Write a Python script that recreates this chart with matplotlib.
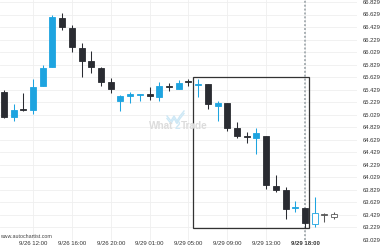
import matplotlib
matplotlib.use('Agg')
import matplotlib.pyplot as plt
from matplotlib.patches import Rectangle
from matplotlib.lines import Line2D

# hourly candles
opens = [65.389, 64.989, 65.117, 65.101, 65.485, 65.789, 66.573, 66.413, 66.093, 65.885,
         65.773, 65.549, 65.245, 65.325, 65.341, 65.357, 65.309, 65.485, 65.437, 65.565,
         65.509, 65.517, 65.165, 65.213, 64.813, 64.685, 64.653, 64.685, 63.885, 63.821,
         63.533, 63.533, 63.277, 63.437, 63.437]
highs = [65.421, 65.197, 65.373, 65.597, 65.821, 66.621, 66.653, 66.461, 66.173, 66.045,
         65.789, 65.613, 65.341, 65.389, 65.365, 65.469, 65.549, 65.533, 65.581, 65.597,
         65.597, 65.517, 65.245, 65.213, 64.909, 64.749, 64.813, 64.685, 64.061, 63.869,
         63.645, 63.533, 63.709, 63.461, 63.469]
lows = [64.973, 64.925, 65.085, 65.037, 65.485, 65.789, 66.381, 66.029, 65.629, 65.693,
        65.485, 65.373, 65.085, 65.213, 65.245, 65.261, 65.245, 65.405, 65.437, 65.485,
        65.309, 65.117, 64.925, 64.765, 64.653, 64.573, 64.397, 63.837, 63.789, 63.357,
        63.469, 63.213, 63.229, 63.309, 63.357]
closes = [64.989, 65.101, 65.109, 65.469, 65.773, 66.589, 66.429, 66.109, 65.885, 65.789,
          65.549, 65.437, 65.325, 65.357, 65.357, 65.325, 65.485, 65.469, 65.533, 65.549,
          65.517, 65.197, 65.213, 64.813, 64.685, 64.677, 64.733, 63.901, 63.821, 63.517,
          63.549, 63.293, 63.453, 63.433, 63.389]
n_hollow = 3  # candles after the signal time

x_tick_idx = [3, 7, 11, 15, 19, 23, 27, 31]
x_tick_labels = ['9/26 12:00', '9/26 16:00', '9/26 20:00', '9/29 01:00',
                 '9/29 05:00', '9/29 09:00', '9/29 13:00', '9/29 18:00']
y_tick_labels = ['66.829', '66.629', '66.429', '66.229', '66.029', '65.829', '65.629',
                 '65.429', '65.229', '65.029', '64.829', '64.629', '64.429', '64.229',
                 '64.029', '63.829', '63.629', '63.429', '63.229', '63.029']

# pattern box and signal time
box_x = (19.47, 31.41)
box_y = (63.213, 65.629)
signal_idx = 31

UP = '#1ea4e0'
DOWN = '#2a2c32'
GREY = '#5a5a5a'

plt.rcParams['font.family'] = ['Liberation Sans', 'DejaVu Sans']

fig = plt.figure(figsize=(3.8, 2.5), dpi=100)
ax = fig.add_axes([0, 10 / 250, 357 / 380, 240 / 250])
ax.set_xlim(-0.397, 36.35)
ax.set_ylim(63.021, 66.861)

yt = [float(s) for s in y_tick_labels]
ax.set_yticks(yt)
ax.set_yticklabels(y_tick_labels)
ax.yaxis.tick_right()
ax.set_xticks(x_tick_idx)
ax.set_xticklabels(x_tick_labels)
ax.tick_params(axis='y', length=0, pad=4, labelsize=4.2, colors='#333333')
ax.tick_params(axis='x', length=0, pad=0.8, labelsize=4.3, colors='#333333')
ax.get_xticklabels()[-1].set_fontweight('bold')
for s in ax.spines.values():
    s.set_visible(False)
ax.grid(True, color='#efefef', linewidth=0.6)
ax.set_axisbelow(True)

w = 0.62
total = len(opens)
for i in range(total):
    o, h, l, c = opens[i], highs[i], lows[i], closes[i]
    hollow = i >= total - n_hollow
    if hollow:
        col = UP if i == total - n_hollow else GREY
        face = 'white'
    else:
        col = UP if c >= o else DOWN
        face = col
    lo, hi = min(o, c), max(o, c)
    if hi - lo < 0.014:
        mid = (hi + lo) / 2
        lo, hi = mid - 0.007, mid + 0.007
        if hollow and i != total - 1:
            face = col
    ax.vlines(i, l, h, color=col, linewidth=0.75, zorder=2)
    ax.add_patch(Rectangle((i - w / 2, lo), w, hi - lo, facecolor=face,
                           edgecolor=col, linewidth=0.6, zorder=3))

# pattern rectangle
ax.add_patch(Rectangle((box_x[0], box_y[0]), box_x[1] - box_x[0], box_y[1] - box_y[0],
                       fill=False, edgecolor='#333333', linewidth=0.9, zorder=4))
# signal time line
ax.axvline(signal_idx, color='#a9b0b4', linestyle=(0, (1, 1)), linewidth=1.4, zorder=1)

# watermark
wy = 1 - 126 / 250
fig.text(173.5 / 380, wy, 'What', ha='right', va='center', fontsize=7.2,
         fontweight='bold', color='#dcdcdc')
fig.text(177 / 380, wy, '2', ha='center', va='center', fontsize=7.2,
         fontweight='bold', color='#cfe8f5')
fig.text(180.5 / 380, wy, 'Trade', ha='left', va='center', fontsize=7.2,
         fontweight='bold', color='#dcdcdc')
for dy in (0, 2.5):
    xs = [167, 171, 174, 177, 180, 184]
    ys = [116, 121, 116, 121, 116, 111]
    fig.add_artist(Line2D([v / 380 for v in xs], [1 - (v + dy) / 250 for v in ys],
                          color='#cde8f6', linewidth=1.0))

fig.text(0, 1 - 236 / 250, 'www.autochartist.com', ha='left', va='center',
         fontsize=3.8, color='#444444')

fig.savefig('out.png', dpi=100)
